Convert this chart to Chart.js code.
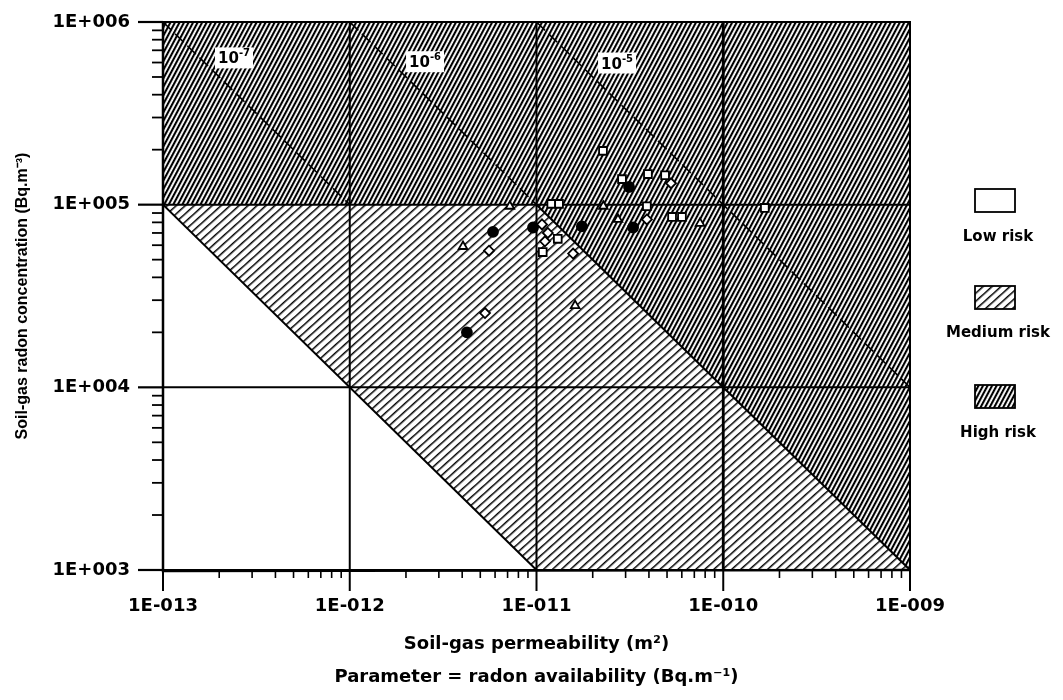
<!DOCTYPE html>
<html>
<head>
<meta charset="utf-8">
<title>Soil-gas radon risk classification</title>
<script src="https://cdn.jsdelivr.net/npm/chart.js@4.4.1/dist/chart.umd.min.js"></script>
<style>
  html, body { margin: 0; padding: 0; background: #fff; }
  #wrap { width: 1063px; height: 700px; position: relative; }
</style>
</head>
<body>
<div id="wrap"><canvas id="riskChart" width="1063" height="700"></canvas></div>
<script>
// axis ranges
const permRange = [1e-13, 1e-9];
const concRange = [1e3, 1e6];
const permDecades = [1e-12, 1e-11, 1e-10];
const concDecades = [1e4, 1e5];

// measured sites: permeability (m²) and soil-gas radon (Bq/m³)
const squarePerm = [2.27e-11, 2.87e-11, 3.95e-11, 4.88e-11, 3.9e-11, 1.67e-10, 5.32e-11, 6.01e-11, 1.2e-11, 1.32e-11, 1.3e-11, 1.08e-11];
const squareConc = [1.97e5, 1.38e5, 1.47e5, 1.45e5, 9.8e4, 9.6e4, 8.57e4, 8.57e4, 1.01e5, 1.01e5, 6.5e4, 5.5e4];

const circlePerm = [3.13e-11, 1.75e-11, 3.29e-11, 5.85e-12, 9.58e-12, 4.24e-12];
const circleConc = [1.25e5, 7.6e4, 7.5e4, 7.1e4, 7.5e4, 2.0e4];

const diamondPerm = [5.25e-11, 3.9e-11, 5.57e-12, 1.07e-11, 1.15e-11, 1.11e-11, 1.57e-11, 5.3e-12];
const diamondConc = [1.31e5, 8.3e4, 5.6e4, 7.8e4, 7.0e4, 6.3e4, 5.4e4, 2.55e4];

const trianglePerm = [2.28e-11, 2.73e-11, 7.51e-11, 7.2e-12, 4.04e-12, 1.61e-11];
const triangleConc = [9.8e4, 8.3e4, 7.9e4, 9.8e4, 5.9e4, 2.8e4];

// risk zones in data units [k, C]
const mediumZone = [[1e-13, 1e5], [1e-11, 1e5], [1e-9, 1e3], [1e-11, 1e3]];
const highZone = [[1e-13, 1e6], [1e-9, 1e6], [1e-9, 1e3], [1e-11, 1e5], [1e-13, 1e5]];
const lowMediumEdge = [[1e-13, 1e5], [1e-11, 1e3]];   // k*C = 1e-8
const mediumHighEdge = [[1e-11, 1e5], [1e-9, 1e3]];   // k*C = 1e-6

// radon availability iso-lines
const availExponents = ['-7', '-6', '-5'];
const availStart = [[1e-13, 1e6], [1e-12, 1e6], [1e-11, 1e6]];
const availEnd = [[1e-12, 1e5], [1e-11, 1e5], [1e-9, 1e4]];
const availLabelAt = [[2.4e-13, 6.4e5], [2.53e-12, 6.1e5], [2.7e-11, 6.0e5]];

const legendLabels = ['Low risk', 'Medium risk', 'High risk'];

const toPoints = (xs, ys) => xs.map((v, i) => ({ x: v, y: ys[i] }));

function decadeLabel(v) {
  const e = Math.log10(v);
  const r = Math.round(e);
  if (Math.abs(e - r) > 1e-6) return '';
  return '1E' + (r < 0 ? '-' : '+') + String(Math.abs(r)).padStart(3, '0');
}

function isDecade(v) {
  const e = Math.log10(v);
  return Math.abs(e - Math.round(e)) < 1e-6;
}

function isWholeMantissa(v) {
  const m = v / Math.pow(10, Math.floor(Math.log10(v) + 1e-9));
  return Math.abs(m - Math.round(m)) < 1e-6;
}

// hatch: stripes rotated to the given angle
function hatch(ctx, period, thick, angle) {
  const c = document.createElement('canvas');
  c.width = 8; c.height = period;
  const g = c.getContext('2d');
  g.fillStyle = '#fff';
  g.fillRect(0, 0, 8, period);
  g.fillStyle = '#000';
  g.fillRect(0, 0, 8, thick);
  const p = ctx.createPattern(c, 'repeat');
  p.setTransform(new DOMMatrix().rotate(-angle));
  return p;
}

let mediumFill, highFill;

const zonePlugin = {
  id: 'zones',
  beforeDatasetsDraw(chart) {
    const { ctx, chartArea: a, scales: { x, y } } = chart;
    if (!mediumFill) {
      mediumFill = hatch(ctx, 6, 1.5, 42);
      highFill = hatch(ctx, 4, 2.1, 62);
    }
    const px = p => [x.getPixelForValue(p[0]), y.getPixelForValue(p[1])];

    const poly = (pts, fill) => {
      ctx.beginPath();
      pts.forEach((p, i) => {
        const [u, v] = px(p);
        i ? ctx.lineTo(u, v) : ctx.moveTo(u, v);
      });
      ctx.closePath();
      ctx.fillStyle = fill;
      ctx.fill();
    };
    const seg = (p, q, w, dash) => {
      const [u1, v1] = px(p), [u2, v2] = px(q);
      ctx.lineWidth = w;
      ctx.setLineDash(dash || []);
      ctx.beginPath();
      ctx.moveTo(u1, v1);
      ctx.lineTo(u2, v2);
      ctx.stroke();
    };

    ctx.save();
    ctx.beginPath();
    ctx.rect(a.left, a.top, a.right - a.left, a.bottom - a.top);
    ctx.clip();
    ctx.fillStyle = '#fff';
    ctx.fillRect(a.left, a.top, a.right - a.left, a.bottom - a.top);
    poly(mediumZone, mediumFill);
    poly(highZone, highFill);

    ctx.strokeStyle = '#000';
    ctx.lineCap = 'butt';
    // availability iso-lines (dashed) with their labels
    availStart.forEach((s, i) => seg(s, availEnd[i], 1.6, [12, 5]));
    ctx.setLineDash([]);
    ctx.textBaseline = 'alphabetic';
    ctx.textAlign = 'left';
    availLabelAt.forEach((p, i) => {
      const [u, v] = px(p);
      ctx.font = 'bold 15px "DejaVu Sans"';
      const wBase = ctx.measureText('10').width;
      ctx.font = 'bold 10px "DejaVu Sans"';
      const wExp = ctx.measureText(availExponents[i]).width;
      const w = wBase + wExp + 6;
      ctx.fillStyle = '#fff';
      ctx.fillRect(u - w / 2, v - 10, w, 21);
      ctx.fillStyle = '#000';
      ctx.font = 'bold 15px "DejaVu Sans"';
      ctx.fillText('10', u - w / 2 + 3, v + 6);
      ctx.font = 'bold 10px "DejaVu Sans"';
      ctx.fillText(availExponents[i], u - w / 2 + 3 + wBase, v - 1);
    });

    // decade lines
    permDecades.forEach(k => seg([k, concRange[0]], [k, concRange[1]], k === 1e-10 ? 2.8 : 2));
    concDecades.forEach(c => seg([permRange[0], c], [permRange[1], c], 2));
    // zone boundaries
    seg(lowMediumEdge[0], lowMediumEdge[1], 2);
    seg(mediumHighEdge[0], mediumHighEdge[1], 2);
    ctx.restore();

    // frame
    ctx.save();
    ctx.strokeStyle = '#000';
    ctx.lineWidth = 2;
    ctx.strokeRect(a.left, a.top, a.right - a.left, a.bottom - a.top);
    ctx.lineWidth = 2.5;
    ctx.beginPath();
    ctx.moveTo(a.left, a.top - 1);
    ctx.lineTo(a.left, a.bottom + 1);
    ctx.lineTo(a.right, a.bottom);
    ctx.stroke();

    // tick marks outside the axes
    x.ticks.forEach(t => {
      if (!isWholeMantissa(t.value)) return;
      const u = x.getPixelForValue(t.value);
      const major = isDecade(t.value);
      ctx.lineWidth = major ? 2 : 1.6;
      ctx.beginPath();
      ctx.moveTo(u, a.bottom);
      ctx.lineTo(u, a.bottom + (major ? 21 : 8));
      ctx.stroke();
    });
    y.ticks.forEach(t => {
      if (!isWholeMantissa(t.value)) return;
      const v = y.getPixelForValue(t.value);
      const major = isDecade(t.value);
      ctx.lineWidth = major ? 2.2 : 1.8;
      ctx.beginPath();
      ctx.moveTo(a.left - (major ? 25 : 11), v);
      ctx.lineTo(a.left, v);
      ctx.stroke();
    });
    ctx.restore();
  },
  afterDraw(chart) {
    const ctx = chart.ctx;
    const fills = ['#fff', mediumFill, highFill];
    const boxTop = [189, 286, 385];
    const textY = [237, 333, 433];
    ctx.save();
    ctx.font = 'bold 15px "DejaVu Sans"';
    ctx.textAlign = 'center';
    ctx.textBaseline = 'middle';
    legendLabels.forEach((lab, i) => {
      ctx.fillStyle = fills[i];
      ctx.fillRect(975, boxTop[i], 40, 23);
      ctx.strokeStyle = '#000';
      ctx.lineWidth = 1.8;
      ctx.strokeRect(975, boxTop[i], 40, 23);
      ctx.fillStyle = '#000';
      ctx.fillText(lab, 998, textY[i]);
    });
    ctx.restore();
  }
};

const markerBase = { borderColor: '#000', borderWidth: 1.8, backgroundColor: '#fff' };

new Chart(document.getElementById('riskChart'), {
  type: 'scatter',
  data: {
    datasets: [
      { ...markerBase, label: 'squares', data: toPoints(squarePerm, squareConc), pointStyle: 'rect', pointRadius: 5.5 },
      { ...markerBase, label: 'diamonds', data: toPoints(diamondPerm, diamondConc), pointStyle: 'rectRot', pointRadius: 5 },
      { ...markerBase, label: 'triangles', data: toPoints(trianglePerm, triangleConc), pointStyle: 'triangle', pointRadius: 5 },
      { ...markerBase, label: 'circles', data: toPoints(circlePerm, circleConc), pointStyle: 'circle', pointRadius: 5, backgroundColor: '#000' }
    ]
  },
  options: {
    responsive: false,
    animation: false,
    layout: { padding: { left: 0, top: 22, right: 153, bottom: 0 } },
    plugins: { legend: { display: false }, tooltip: { enabled: false } },
    scales: {
      x: {
        type: 'logarithmic',
        position: 'bottom',
        min: permRange[0],
        max: permRange[1],
        grid: { display: false, drawTicks: false },
        border: { display: false },
        ticks: {
          autoSkip: false, maxRotation: 0, padding: 26, color: '#000',
          font: { family: 'DejaVu Sans', weight: 'bold', size: 18 },
          callback: decadeLabel
        },
        title: {
          display: true,
          text: ['Soil-gas permeability (m\u00B2)', 'Parameter = radon availability (Bq.m\u207B\u00B9)'],
          color: '#000',
          font: { family: 'DejaVu Sans', weight: 'bold', size: 18, lineHeight: 1.83 },
          padding: { top: 0, bottom: 6 }
        },
        afterFit(s) { s.height = 130; }
      },
      y: {
        type: 'logarithmic',
        position: 'left',
        min: concRange[0],
        max: concRange[1],
        grid: { display: false, drawTicks: false },
        border: { display: false },
        ticks: {
          autoSkip: false, padding: 33, color: '#000',
          font: { family: 'DejaVu Sans', weight: 'bold', size: 18 },
          callback: decadeLabel
        },
        title: {
          display: true,
          text: 'Soil-gas radon concentration (Bq.m\u207B\u00B3)',
          color: '#000',
          font: { family: 'Liberation Sans', weight: 'bold', size: 16, lineHeight: 1.2 },
          padding: { top: 13, bottom: 0 }
        },
        afterFit(s) {
          s.width = 163;
          // the label gap should not push the plot down
          s.paddingTop = 0;
          s.paddingBottom = 0;
        }
      }
    }
  },
  plugins: [zonePlugin]
});
</script>
</body>
</html>
